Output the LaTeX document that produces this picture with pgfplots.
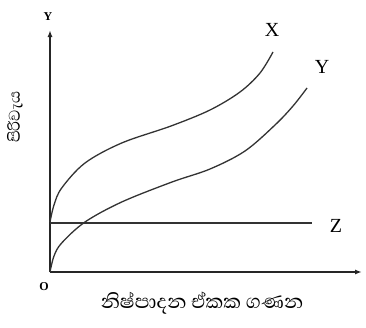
\documentclass[border=0pt]{standalone}
\usepackage{pgfplots}
\pgfplotsset{compat=1.18}
\usetikzlibrary{arrows.meta}
\usepackage{fontspec}
\setmainfont{Liberation Serif}
\newfontfamily\sinhala[Script=Sinhala]{Abhaya Libre}
\begin{document}
\begin{tikzpicture}
\useasboundingbox (-50pt,-55pt) rectangle (316pt,272pt);
\begin{axis}[x=1pt,y=1pt,anchor=origin,at={(0,0)},
  xmin=0,xmax=312,ymin=0,ymax=242,
  axis x line=bottom, axis y line=left,
  axis line style={line width=1.5pt, black!85, -{Latex[length=7pt,width=5pt]}},
  xtick=\empty, ytick=\empty, clip=false]
\addplot[black!80, line width=1.3pt, smooth, tension=0.55] coordinates {
 (0,50) (4,67) (11.7,84) (35,109) (71.7,129) (121,146) (160,162) (190,180) (210,199) (223,220)};
\addplot[black!80, line width=1.3pt, smooth, tension=0.55] coordinates {
 (0,0) (4,16) (11.7,29) (35,50) (71.7,70) (122,90) (160,103) (195,121) (225,147) (243,166) (257,184)};
\addplot[black!80, line width=1.3pt] coordinates {(0,49) (262,49)};
\node[font=\fontsize{20}{24}\selectfont] at (axis cs:222,242) {X};
\node[font=\fontsize{20}{24}\selectfont] at (axis cs:272,205) {Y};
\node[font=\fontsize{20}{24}\selectfont] at (axis cs:286,46) {Z};
\node[font=\fontsize{12}{14}\selectfont\bfseries] at (axis cs:-2,255) {Y};
\node[font=\fontsize{12}{14}\selectfont\bfseries] at (axis cs:-6,-15) {O};
\node[font=\fontsize{25}{30}\selectfont\sinhala] at (axis cs:152,-31) {නිෂ්පාදන ඒකක ගණන};
\node[font=\fontsize{20}{24}\selectfont\sinhala, rotate=90] at (axis cs:-35,155) {පිරිවැය};
\end{axis}
\end{tikzpicture}
\end{document}
